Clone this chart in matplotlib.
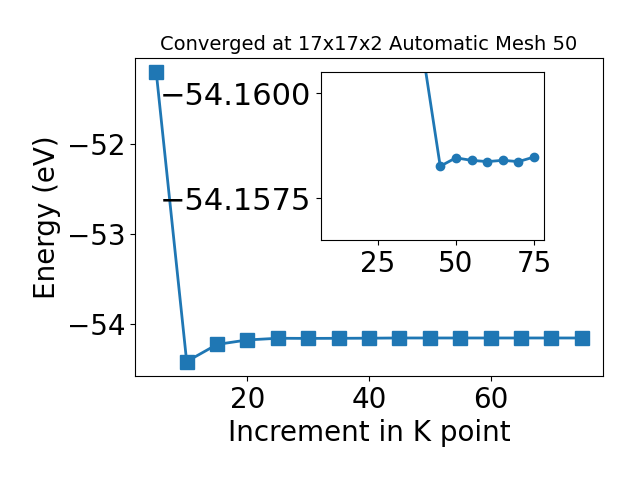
import matplotlib
matplotlib.use("Agg")
import matplotlib.pyplot as plt

kpoints = [5, 10, 15, 20, 25, 30, 35, 40, 45, 50, 55, 60, 65, 70, 75]
energy = [-51.21, -54.42, -54.23, -54.18, -54.1615, -54.163, -54.162, -54.1607,
          -54.15826, -54.15846, -54.1584, -54.15837, -54.1584, -54.15837, -54.15848]
inset_yticks = [-54.1600, -54.1575]

title = "Converged at 17x17x2 Automatic Mesh 50"

fig = plt.figure(figsize=(6.4, 4.8), dpi=100)
ax = fig.add_axes([135/640, 1 - 376/480, (603-135)/640, (376-58)/480])
ax.plot(kpoints, energy, marker='s', markersize=10, linewidth=2, color='#1f77b4')
ax.set_xlabel("Increment in K point", fontsize=20)
ax.set_ylabel("Energy (eV)", fontsize=20)
ax.set_title(title, fontsize=14)
ax.tick_params(labelsize=20)

axin = fig.add_axes([320.5/640, 1 - 240/480, (544.3-320.5)/640, (240-72.3)/480])
axin.plot(kpoints[1:], energy[1:], marker='o', markersize=6, linewidth=2, color='#1f77b4')
axin.set_ylim(-54.1565, -54.1605)
axin.set_yticks(inset_yticks)
axin.ticklabel_format(axis='y', useOffset=False)
axin.tick_params(axis='x', labelsize=20)
axin.tick_params(axis='y', labelsize=22)

fig.savefig("out.png", dpi=100)
